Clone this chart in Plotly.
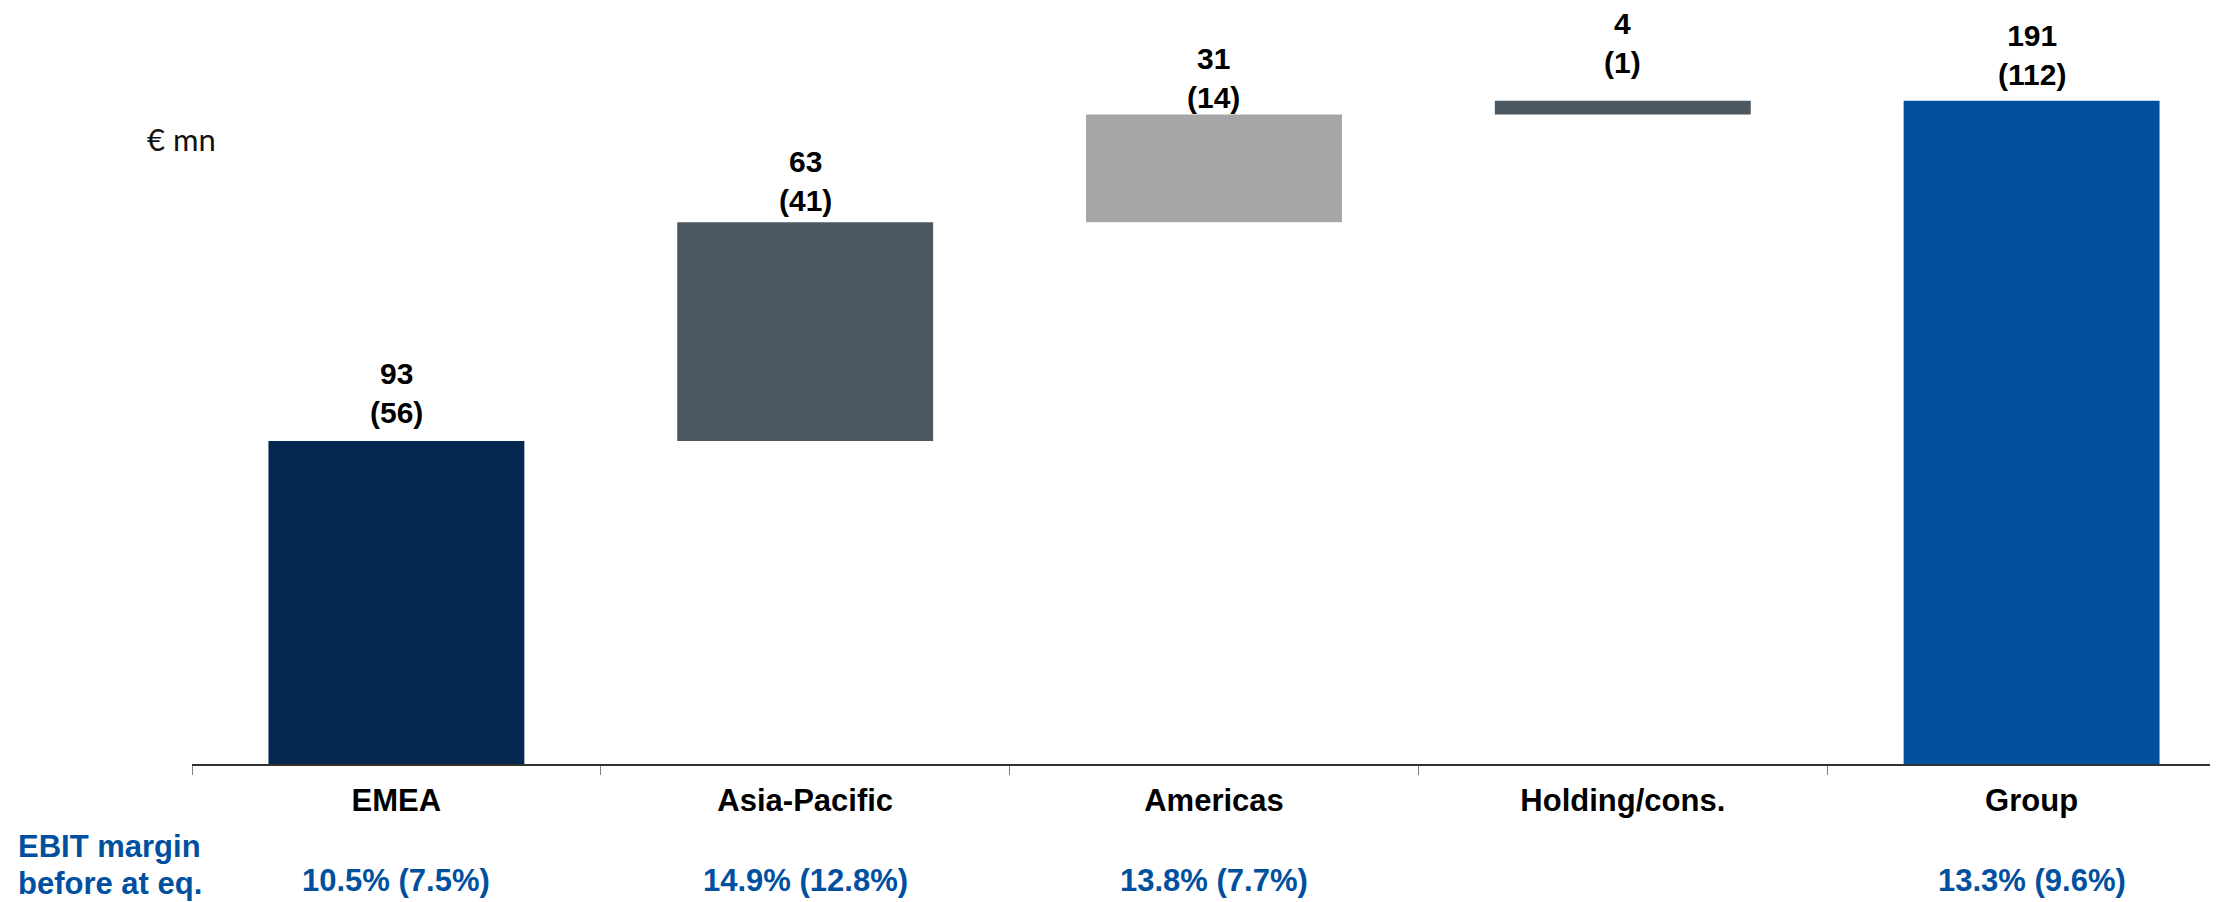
import numpy as np
import plotly.graph_objects as go

# ---- data ----
categories = ["EMEA", "Asia-Pacific", "Americas", "Holding/cons.", "Group"]
values = [93, 63, 31, 4, 191]
prior_values = [56, 41, 14, 1, 112]
is_total = [False, False, False, False, True]
margin_labels = ["10.5% (7.5%)", "14.9% (12.8%)", "13.8% (7.7%)", "", "13.3% (9.6%)"]
unit_label = "€ mn"
margin_title = ["EBIT margin", "before at eq."]

# ---- styles ----
bar_colors = ["#03274E", "#4B5861", "#A6A6A6", "#4B5861", "#00509E"]
label_yshift = [48, 41, 37, 58, 46]   # px offset of value labels above bar tops
BLUE = "#0050A0"
FONT = "Liberation Sans, Arial, sans-serif"

# floating bases for the waterfall steps
vals = np.array(values, dtype=float)
bases = []
running = 0.0
for v, tot in zip(vals, is_total):
    if tot:
        bases.append(0.0)
        running = v
    else:
        bases.append(running)
        running += v
bases = np.array(bases)
tops = bases + vals

fig = go.Figure()
fig.add_trace(go.Bar(
    x=categories, y=vals, base=bases,
    marker=dict(color=bar_colors, line=dict(width=0)),
    width=0.626, hoverinfo="skip", showlegend=False,
))

# value labels above bars
for c, t, v, p, ys in zip(categories, tops, values, prior_values, label_yshift):
    fig.add_annotation(
        x=c, y=t, xref="x", yref="y",
        text=f"{v}<br>({p})", showarrow=False,
        font=dict(family=FONT, size=30, color="#000000", weight="bold"),
        xanchor="center", yanchor="middle", yshift=ys, align="center",
    )

# margin row
for c, m in zip(categories, margin_labels):
    if not m:
        continue
    fig.add_annotation(
        x=c, y=0, xref="x", yref="paper",
        text=m, showarrow=False,
        font=dict(family=FONT, size=31, color=BLUE, weight="bold"),
        xanchor="center", yanchor="middle", yshift=-116,
    )

for line, ys in zip(margin_title, [-82, -119]):
    fig.add_annotation(
        x=0, y=0, xref="paper", yref="paper",
        text=line, showarrow=False,
        font=dict(family=FONT, size=31, color=BLUE, weight="bold"),
        xanchor="left", yanchor="middle", xshift=-176, yshift=ys, align="left",
    )

fig.add_annotation(
    x=0, y=1, xref="paper", yref="paper",
    text=unit_label, showarrow=False,
    font=dict(family="Lato, Liberation Sans, sans-serif", size=31, color="#111111"),
    xanchor="left", yanchor="middle", xshift=-47, yshift=-131,
)

fig.update_layout(
    width=2210, height=894,
    margin=dict(l=184, r=0, t=0, b=138, pad=0),
    paper_bgcolor="white", plot_bgcolor="white",
    bargap=0.374,
    xaxis=dict(
        type="category",
        range=[-0.5, 4.456],
        showline=True, linecolor="#333333", linewidth=2,
        ticks="outside", tickson="boundaries", ticklen=9,
        tickcolor="#7f7f7f", tickwidth=1,
        tickfont=dict(family=FONT, size=31, color="#000000", weight="bold"),
        ticklabelstandoff=8,
        showgrid=False, zeroline=False, fixedrange=True,
    ),
    yaxis=dict(
        range=[0, 217.7], visible=False, showgrid=False, zeroline=False, fixedrange=True,
    ),
)

fig.write_html("out.html")
